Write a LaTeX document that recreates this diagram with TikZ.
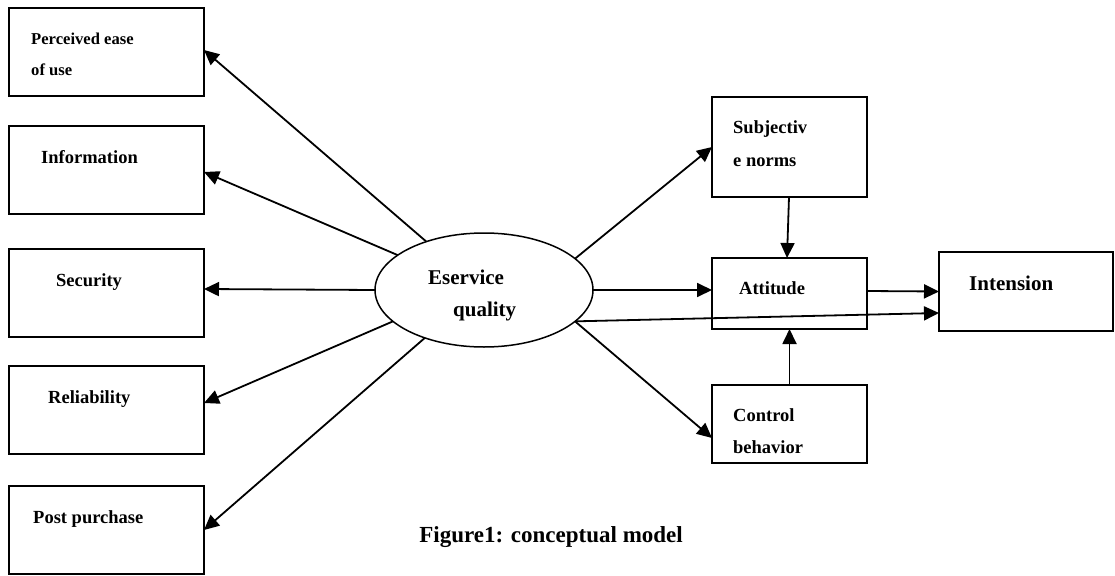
\documentclass[tikz,border=0pt]{standalone}
\usepackage{fontspec}
\setmainfont{Liberation Serif}
\usetikzlibrary{arrows.meta,shapes.geometric}
\begin{document}
\begin{tikzpicture}[x=1pt,y=-1pt,
  boxnode/.style={draw,line width=2pt,rectangle,inner sep=0pt,outer sep=0pt},
  lbl/.style={inner sep=0pt,anchor=base west,font=\fontsize{18.5}{20}\selectfont\bfseries},
  lblsmall/.style={inner sep=0pt,anchor=base west,font=\fontsize{16.6}{18}\selectfont\bfseries},
  lblbig/.style={inner sep=0pt,anchor=base west,font=\fontsize{21}{23}\selectfont\bfseries},
  arr/.style={line width=1.8pt,-{Triangle[length=15pt,width=14pt]}}]
\useasboundingbox (0,0) rectangle (1115,575);
% left boxes
\node[boxnode,minimum width=195pt,minimum height=88pt] (b1) at (106.5,52) {};
\node[boxnode,minimum width=195pt,minimum height=88pt] (b2) at (106.5,170) {};
\node[boxnode,minimum width=195pt,minimum height=88pt] (b3) at (106.5,293) {};
\node[boxnode,minimum width=195pt,minimum height=88pt] (b4) at (106.5,410) {};
\node[boxnode,minimum width=195pt,minimum height=88pt] (b5) at (106.5,530) {};
% right boxes
\node[boxnode,minimum width=155pt,minimum height=100pt] (sn) at (789.5,147) {};
\node[boxnode,minimum width=155pt,minimum height=71pt] (at) at (789.5,293.5) {};
\node[boxnode,minimum width=155pt,minimum height=78pt] (cb) at (789.5,424) {};
\node[boxnode,minimum width=174pt,minimum height=79pt] (in) at (1026,291.5) {};
% ellipse
\node[draw,ellipse,line width=1.5pt,minimum width=218pt,minimum height=114pt,inner sep=0pt,outer sep=0pt] (eq) at (484,290) {};
% labels
\node[lblsmall] (t1a) at (31,45) {Perceived ease};
\node[lblsmall] (t1b) at (31,76) {of use};
\node[lbl] (t2) at (41,163) {Information};
\node[lbl] (t3) at (56,286) {Security};
\node[lbl] (t4) at (48,403) {Reliability};
\node[lbl] (t5) at (33,523) {Post purchase};
\node[lbl] (t6a) at (733,133) {Subjectiv};
\node[lbl] (t6b) at (733,166) {e norms};
\node[lbl] (t7) at (739,294) {Attitude};
\node[lblbig] (t8) at (969,290) {Intension};
\node[lblbig] (t9a) at (428,284) {Eservice};
\node[lblbig] (t9b) at (453,316) {quality};
\node[lbl] (t10a) at (733,421) {Control};
\node[lbl] (t10b) at (733,453) {behavior};
\node[inner sep=0pt,anchor=base east,font=\fontsize{23}{25}\selectfont\bfseries] (cap) at (683,542) {Figure1: conceptual model};
% arrows to the left
\draw[arr] (eq.140) -- ([yshift=2pt]b1.east);
\draw[arr] (eq.158) -- ([yshift=-2pt]b2.east);
\draw[arr] (eq.180) -- ([yshift=4pt]b3.east);
\draw[arr] (eq.199) -- ([yshift=7pt]b4.east);
\draw[arr] (eq.219) -- (b5.east);
% arrows to the right
\draw[arr] (eq.19) -- (sn.west);
\draw[arr] (eq.0) -- ([yshift=3.5pt]at.west);
\draw[arr] (eq.341) -- ([yshift=-14pt]cb.west);
\draw[arr] (eq.341) -- ([yshift=-21.5pt]in.west);
\draw[arr] ([yshift=2.5pt]at.east) -- (in.west);
\draw[arr] ([xshift=-0.5pt]sn.south) -- ([xshift=-2.5pt]at.north);
\draw[arr] (cb.north) -- (at.south);
\end{tikzpicture}
\end{document}
